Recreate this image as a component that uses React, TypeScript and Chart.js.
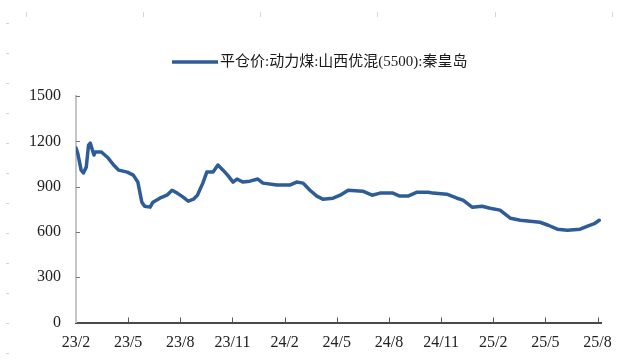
import React, { useEffect, useRef } from "react";
import { Chart, registerables } from "chart.js";

Chart.register(...registerables);

const seriesName = "平仓价:动力煤:山西优混(5500):秦皇岛";

const dates = [
  "2023-02-01", "2023-02-04", "2023-02-10", "2023-02-14", "2023-02-19", "2023-02-23",
  "2023-02-26", "2023-03-02", "2023-03-04", "2023-03-15", "2023-03-27", "2023-04-06",
  "2023-04-15", "2023-04-30", "2023-05-10", "2023-05-18", "2023-05-25", "2023-05-30",
  "2023-06-09", "2023-06-14", "2023-06-26", "2023-07-08", "2023-07-17", "2023-07-26",
  "2023-08-06", "2023-08-15", "2023-08-24", "2023-08-31", "2023-09-10", "2023-09-17",
  "2023-09-28", "2023-10-06", "2023-10-15", "2023-10-23", "2023-11-02", "2023-11-09",
  "2023-11-19", "2023-12-01", "2023-12-15", "2023-12-24", "2024-01-18", "2024-02-10",
  "2024-02-22", "2024-03-03", "2024-03-15", "2024-03-27", "2024-04-07", "2024-04-25",
  "2024-05-07", "2024-05-21", "2024-06-16", "2024-07-02", "2024-07-16", "2024-08-08",
  "2024-08-20", "2024-09-04", "2024-09-20", "2024-10-09", "2024-10-17", "2024-11-11",
  "2024-11-29", "2024-12-09", "2024-12-25", "2025-01-12", "2025-01-26", "2025-02-13",
  "2025-03-01", "2025-03-18", "2025-04-05", "2025-04-22", "2025-05-06", "2025-05-22",
  "2025-06-09", "2025-07-01", "2025-07-13", "2025-07-27", "2025-08-04",
];

const prices = [
  1155, 1122, 1009, 990, 1029, 1175,
  1188, 1109, 1129, 1129, 1089, 1043,
  1009, 996, 976, 930, 797, 770,
  764, 797, 823, 843, 876, 857,
  830, 803, 817, 843, 923, 996,
  996, 1043, 1009, 976, 930, 950,
  930, 936, 950, 923, 910, 910,
  930, 923, 876, 837, 817, 823,
  843, 876, 870, 843, 857, 857,
  837, 837, 863, 863, 857, 850,
  823, 810, 764, 770, 757, 744,
  690, 677, 671, 664, 644, 618,
  611, 618, 637, 657, 677,
];

const yTicks = [0, 300, 600, 900, 1200, 1500];
const xTickLabels = ["23/2", "23/5", "23/8", "23/11", "24/2", "24/5", "24/8", "24/11", "25/2", "25/5", "25/8"];

const LINE_COLOR = "#2E5C96";
const SERIF = '"Liberation Serif", "Times New Roman", serif';

function monthOffset(d: string): number {
  const [y, m, dd] = d.split("-").map(Number);
  return (y - 2023) * 12 + (m - 2) + (dd - 1) / 30.5;
}

const points = dates.map((d, i) => ({ x: monthOffset(d), y: prices[i] }));

const decorPlugin = {
  id: "decor",
  afterDraw(chart: any) {
    const { ctx, chartArea, scales } = chart;
    ctx.save();
    // inside tick marks on y axis
    ctx.strokeStyle = "#777";
    ctx.lineWidth = 1;
    yTicks.forEach((v) => {
      if (v === 0) return;
      const y = Math.round(scales.y.getPixelForValue(v)) + 0.5;
      ctx.beginPath();
      ctx.moveTo(chartArea.left, y);
      ctx.lineTo(chartArea.left + 4, y);
      ctx.stroke();
    });
    // inside tick marks on x axis
    ctx.strokeStyle = "#555";
    xTickLabels.forEach((_, i) => {
      if (i === 0) return;
      const x = Math.round(scales.x.getPixelForValue(i * 3)) + 0.5;
      ctx.beginPath();
      ctx.moveTo(x, chartArea.bottom);
      ctx.lineTo(x, chartArea.bottom - 5);
      ctx.stroke();
    });
    // faint ruler marks at edges
    ctx.strokeStyle = "#d4d4d4";
    for (let y = 23; y < 360; y += 30) {
      ctx.beginPath();
      ctx.moveTo(6, y + 0.5);
      ctx.lineTo(9, y + 0.5);
      ctx.stroke();
    }
    [26, 143, 260, 377, 495, 612].forEach((x) => {
      ctx.beginPath();
      ctx.moveTo(x + 0.5, 12);
      ctx.lineTo(x + 0.5, 17);
      ctx.stroke();
    });
    // legend
    ctx.strokeStyle = LINE_COLOR;
    ctx.lineWidth = 3.5;
    ctx.beginPath();
    ctx.moveTo(172, 62);
    ctx.lineTo(218, 62);
    ctx.stroke();
    ctx.fillStyle = "#1a1a1a";
    ctx.font = '15px "Liberation Serif", "Noto Sans CJK SC", serif';
    ctx.textBaseline = "middle";
    ctx.textAlign = "left";
    ctx.fillText(seriesName, 220, 62);
    ctx.restore();
  },
};

export default function App() {
  const ref = useRef<HTMLCanvasElement | null>(null);

  useEffect(() => {
    if (!ref.current) return;
    const chart = new Chart(ref.current, {
      type: "line",
      data: {
        datasets: [
          {
            label: seriesName,
            data: points,
            borderColor: LINE_COLOR,
            backgroundColor: LINE_COLOR,
            borderWidth: 3.5,
            pointRadius: 0,
            tension: 0,
            borderJoinStyle: "round",
            borderCapStyle: "round",
          },
        ],
      },
      options: {
        animation: false,
        responsive: false,
        devicePixelRatio: 1,
        layout: { padding: { top: 96, right: 26, left: 0, bottom: 0 } },
        plugins: {
          legend: { display: false },
          tooltip: { enabled: false },
        },
        scales: {
          x: {
            type: "linear",
            min: 0,
            max: 30.2,
            afterFit: (s: any) => {
              s.height = 37.5;
            },
            afterBuildTicks: (s: any) => {
              s.ticks = xTickLabels.map((_, i) => ({ value: i * 3 }));
            },
            grid: { display: true, drawOnChartArea: false, drawTicks: false },
            border: { display: true, color: "#4a4a4a", width: 2 },
            ticks: {
              autoSkip: false,
              maxRotation: 0,
              padding: 11,
              color: "#222",
              font: { family: SERIF, size: 16 },
              callback: (v: any) => xTickLabels[Math.round(Number(v) / 3)] ?? "",
            },
          },
          y: {
            min: 0,
            max: 1500,
            afterFit: (s: any) => {
              s.width = 76;
            },
            afterBuildTicks: (s: any) => {
              s.ticks = yTicks.map((v) => ({ value: v }));
            },
            grid: { display: true, drawOnChartArea: false, drawTicks: false },
            border: { display: true, color: "#c4c4c4", width: 2 },
            ticks: {
              padding: 15,
              color: "#222",
              font: { family: SERIF, size: 16 },
              callback: (v: any) => String(v),
            },
          },
        },
      } as any,
      plugins: [decorPlugin],
    });
    return () => chart.destroy();
  }, []);

  return (
    <div style={{ position: "fixed", left: 0, top: 0, width: 627, height: 360, background: "#fff" }}>
      <canvas ref={ref} width={627} height={360} style={{ width: 627, height: 360, display: "block" }} />
    </div>
  );
}
